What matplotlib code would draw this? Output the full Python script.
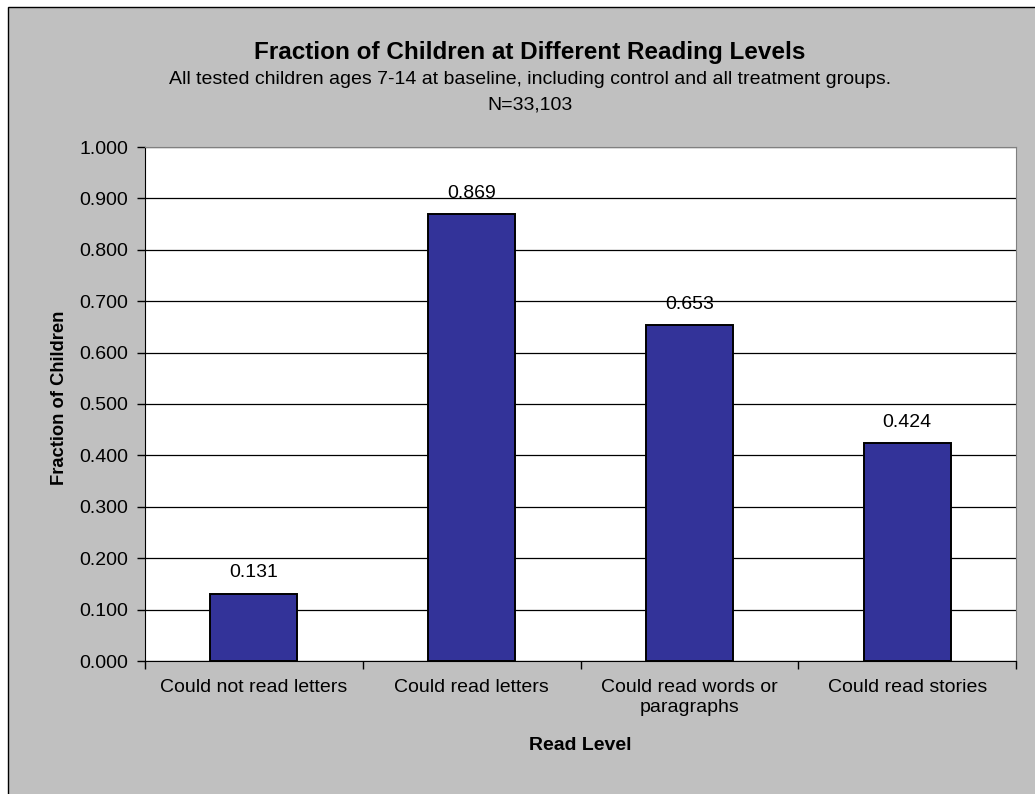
import numpy as np
import matplotlib
matplotlib.use('Agg')
import matplotlib.pyplot as plt
from matplotlib.patches import Rectangle

plt.rcParams['font.family'] = ['Liberation Sans', 'DejaVu Sans']

categories = ['Could not read letters', 'Could read letters',
              'Could read words or\nparagraphs', 'Could read stories']
fractions = [0.131, 0.869, 0.653, 0.424]
yticks = [0.0, 0.1, 0.2, 0.3, 0.4, 0.5, 0.6, 0.7, 0.8, 0.9, 1.0]

fig = plt.figure(figsize=(10.35, 7.94), dpi=100)
fig.patch.set_facecolor('white')

# grey chart area with black frame
fig.patches.append(Rectangle((8/1035., -0.01), 1.0, 1 - 7/794. + 0.01,
                             transform=fig.transFigure, facecolor='#c0c0c0',
                             edgecolor='black', linewidth=1.0, zorder=-10))

ax = fig.add_axes([145/1035., 1 - 661/794., (1016 - 145)/1035., (661 - 147)/794.])
ax.set_facecolor('white')

x = np.arange(len(categories))
ax.bar(x, fractions, width=0.4, color='#333399', edgecolor='black',
       linewidth=1.4, zorder=3)

for xi, v in zip(x, fractions):
    ax.annotate('%.3f' % v, (xi, v), xytext=(0, 15), textcoords='offset points',
                ha='center', va='center', fontsize=14)

ax.set_xlim(-0.5, len(categories) - 0.5)
ax.set_ylim(0, 1.0)
ax.set_yticks(yticks)
ax.set_yticklabels(['%.3f' % t for t in yticks], fontsize=14)
ax.yaxis.grid(True, color='black', linewidth=0.9)
ax.set_axisbelow(True)

ax.set_xticks(np.arange(-0.5, len(categories), 1.0))
ax.set_xticklabels([])
ax.set_xticks(x, minor=True)
ax.set_xticklabels(categories, minor=True, fontsize=14)
ax.tick_params(axis='x', which='minor', length=0, pad=13)
ax.tick_params(axis='x', which='major', length=6, direction='out', width=1)
ax.tick_params(axis='y', length=6, direction='out', width=1, pad=6)

ax.spines['top'].set_color('#808080')
ax.spines['right'].set_color('#808080')
ax.spines['left'].set_color('black')
ax.spines['bottom'].set_color('black')

ax.set_xlabel('Read Level', fontweight='bold', fontsize=14, va='center')
ax.xaxis.set_label_coords(0.5, (661 - 746) / 514.)
ax.set_ylabel('Fraction of Children', fontweight='bold', fontsize=13.2, va='center')
ax.yaxis.set_label_coords((60 - 145) / 871., (661 - 398) / 514.)

fig.text(530/1035., 1 - 52/794., 'Fraction of Children at Different Reading Levels',
         ha='center', va='center', fontsize=17.5, fontweight='bold')
fig.text(530/1035., 1 - 80/794., 'All tested children ages 7-14 at baseline, including control and all treatment groups.',
         ha='center', va='center', fontsize=14)
fig.text(530/1035., 1 - 105/794., 'N=33,103', ha='center', va='center', fontsize=14)

plt.savefig('out.png', dpi=100, facecolor=fig.get_facecolor())
